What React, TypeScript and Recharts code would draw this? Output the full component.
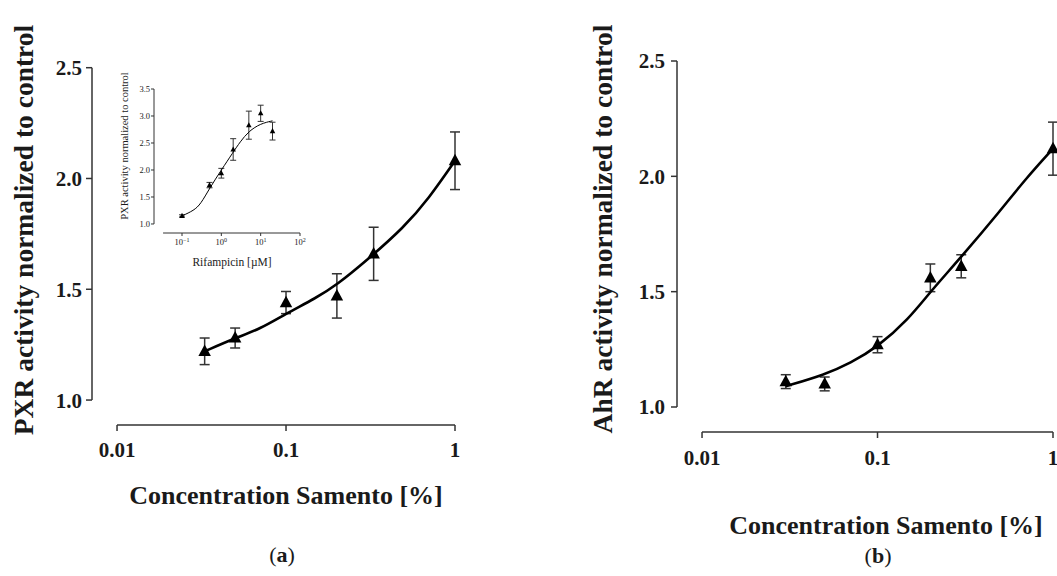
import React from 'react';
import { ScatterChart, Scatter, XAxis, YAxis, ErrorBar, ReferenceLine } from 'recharts';

// panel (a): PXR
const concA = [0.033, 0.05, 0.1, 0.2, 0.33, 1];
const pxrMean = [1.22, 1.28, 1.44, 1.47, 1.66, 2.08];
const pxrErr = [0.06, 0.045, 0.05, 0.1, 0.12, 0.13];
const pxrFitX = [0.033, 0.05, 0.07, 0.1, 0.15, 0.2, 0.3, 0.5, 0.7, 1];
const pxrFitY = [1.22, 1.28, 1.32, 1.39, 1.46, 1.52, 1.63, 1.78, 1.91, 2.08];

// inset: rifampicin control
const rifConc = [0.1, 0.5, 1, 2, 5, 10, 20];
const rifMean = [1.15, 1.72, 1.94, 2.38, 2.83, 3.05, 2.72];
const rifErr = [0.02, 0.05, 0.09, 0.2, 0.26, 0.15, 0.165];
const rifFitX = [0.1, 0.2, 0.3, 0.5, 1, 2, 3, 5, 10, 20];
const rifFitY = [1.15, 1.25, 1.37, 1.66, 2.0, 2.33, 2.52, 2.72, 2.86, 2.91];

// panel (b): AhR
const concB = [0.03, 0.05, 0.1, 0.2, 0.3, 1];
const ahrMean = [1.11, 1.1, 1.27, 1.56, 1.61, 2.12];
const ahrErr = [0.03, 0.03, 0.035, 0.06, 0.05, 0.115];
const ahrFitX = [0.03, 0.05, 0.07, 0.1, 0.15, 0.2, 0.3, 0.5, 0.7, 1];
const ahrFitY = [1.09, 1.14, 1.19, 1.26, 1.38, 1.5, 1.65, 1.85, 1.99, 2.12];

const concTicks = [0.01, 0.1, 1];
const activityTicks = [1, 1.5, 2, 2.5];
const rifXTicks = [0.1, 1, 10, 100];
const rifYTicks = [1, 1.5, 2, 2.5, 3, 3.5];

const zip = (xs: number[], ys: number[], es?: number[]) =>
  xs.map((x, i) => ({ x, y: ys[i], err: es ? es[i] : 0 }));

const FONT = '"Liberation Serif", "Times New Roman", serif';
const INK = '#1a1a1a';
const AXIS = '#333';

const noDot = () => <g />;

// filled triangle centred on the point the library computed
const tri = (w: number) => (p: any) => {
  const h = w * 0.92;
  const { cx, cy } = p;
  return (
    <polygon
      points={`${cx},${cy - h * 0.6} ${cx - w / 2},${cy + h * 0.4} ${cx + w / 2},${cy + h * 0.4}`}
      fill="#000"
    />
  );
};

const PowTick = (props: any) => {
  const { x, y, payload } = props;
  const exp = String(Math.round(Math.log10(payload.value))).replace('-', '\u2212');
  return (
    <text x={x} y={y} dy={7} textAnchor="middle" fontFamily={FONT} fontSize={8.5} fill={INK}>
      10<tspan dy={-3.5} fontSize={6}>{exp}</tspan>
    </text>
  );
};

type PanelProps = {
  width: number;
  height: number;
  margin: { top: number; right: number; bottom: number; left: number };
  xMin: number;
  yMin: number;
  pts: { x: number; y: number; err: number }[];
  fit: { x: number; y: number; err: number }[];
  tickMarginX: number;
  tickMarginY: number;
};

const MainPanel = ({ width, height, margin, xMin, yMin, pts, fit, tickMarginX, tickMarginY }: PanelProps) => (
  <ScatterChart width={width} height={height} margin={margin}>
    <XAxis
      type="number"
      dataKey="x"
      scale="log"
      domain={[xMin, 1]}
      ticks={concTicks}
      interval={0}
      axisLine={false}
      tickLine={{ stroke: AXIS, strokeWidth: 1.5 }}
      tickSize={6}
      tickMargin={tickMarginX}
      height={40}
      tick={{ fontFamily: FONT, fontSize: 21, fontWeight: 700, fill: INK }}
    />
    <YAxis
      type="number"
      dataKey="y"
      domain={[yMin, 2.5]}
      ticks={activityTicks}
      interval={0}
      tickFormatter={(v: number) => v.toFixed(1)}
      axisLine={false}
      tickLine={{ stroke: AXIS, strokeWidth: 1.5 }}
      tickSize={6}
      tickMargin={tickMarginY}
      width={60}
      tick={{ fontFamily: FONT, fontSize: 21, fontWeight: 700, fill: INK }}
    />
    <ReferenceLine
      segment={[{ x: xMin, y: 1 }, { x: xMin, y: 2.5 }]}
      stroke={AXIS}
      strokeWidth={1.5}
      ifOverflow="visible"
    />
    <ReferenceLine
      segment={[{ x: 0.01, y: yMin }, { x: 1, y: yMin }]}
      stroke={AXIS}
      strokeWidth={1.5}
      ifOverflow="visible"
    />
    <Scatter
      data={fit}
      line={{ stroke: '#000', strokeWidth: 2.6 }}
      lineJointType="basis"
      shape={noDot}
      isAnimationActive={false}
    />
    <Scatter data={pts} shape={tri(12.5)} isAnimationActive={false}>
      <ErrorBar dataKey="err" direction="y" width={5} stroke={AXIS} strokeWidth={1.5} />
    </Scatter>
  </ScatterChart>
);

const Inset = () => (
  <ScatterChart width={220} height={200} margin={{ top: 29, right: 20, bottom: 7, left: 30 }}>
    <XAxis
      type="number"
      dataKey="x"
      scale="log"
      domain={[0.0194, 100]}
      ticks={rifXTicks}
      interval={0}
      axisLine={false}
      tickLine={{ stroke: AXIS, strokeWidth: 1 }}
      tickSize={3}
      tickMargin={2}
      height={20}
      tick={<PowTick />}
    />
    <YAxis
      type="number"
      dataKey="y"
      domain={[0.833, 3.5]}
      ticks={rifYTicks}
      interval={0}
      tickFormatter={(v: number) => v.toFixed(1)}
      axisLine={false}
      tickLine={{ stroke: AXIS, strokeWidth: 1 }}
      tickSize={3}
      tickMargin={1}
      width={24}
      tick={{ fontFamily: FONT, fontSize: 8.5, fill: INK }}
    />
    <ReferenceLine
      segment={[{ x: 0.0194, y: 1 }, { x: 0.0194, y: 3.5 }]}
      stroke={AXIS}
      strokeWidth={1}
      ifOverflow="visible"
    />
    <ReferenceLine
      segment={[{ x: 0.033, y: 0.833 }, { x: 100, y: 0.833 }]}
      stroke={AXIS}
      strokeWidth={1}
      ifOverflow="visible"
    />
    <Scatter
      data={zip(rifFitX, rifFitY)}
      line={{ stroke: '#000', strokeWidth: 1 }}
      lineJointType="basis"
      shape={noDot}
      isAnimationActive={false}
    />
    <Scatter data={zip(rifConc, rifMean, rifErr)} shape={tri(5.5)} isAnimationActive={false}>
      <ErrorBar dataKey="err" direction="y" width={3} stroke={AXIS} strokeWidth={1} />
    </Scatter>
  </ScatterChart>
);

const abs = (left: number, top: number): React.CSSProperties => ({ position: 'absolute', left, top });

const VTitle = ({ x, y, size, bold, children }: any) => (
  <div
    style={{
      position: 'absolute',
      left: x,
      top: y,
      transform: 'translate(-50%, -50%) rotate(-90deg)',
      whiteSpace: 'nowrap',
      fontFamily: FONT,
      fontSize: size,
      fontWeight: bold ? 700 : 400,
      color: INK,
      lineHeight: 1,
    }}
  >
    {children}
  </div>
);

const HText = ({ x, y, size, bold, children }: any) => (
  <div
    style={{
      position: 'absolute',
      left: x,
      top: y,
      transform: 'translate(-50%, -50%)',
      whiteSpace: 'nowrap',
      fontFamily: FONT,
      fontSize: size,
      fontWeight: bold ? 700 : 400,
      color: INK,
      lineHeight: 1,
    }}
  >
    {children}
  </div>
);

export default function App() {
  return (
    <div
      style={{
        position: 'absolute',
        left: 0,
        top: 0,
        width: 1057,
        height: 576,
        overflow: 'hidden',
        background: '#fff',
      }}
    >
      {/* (a) plot area: x 92..455, y 67.7..425 */}
      <div style={abs(0, 0)}>
        <MainPanel
          width={520}
          height={576}
          margin={{ top: 67.7, right: 65, bottom: 111, left: 32 }}
          xMin={0.00711}
          yMin={0.8874}
          pts={zip(concA, pxrMean, pxrErr)}
          fit={zip(pxrFitX, pxrFitY)}
          tickMarginX={11}
          tickMarginY={4}
        />
      </div>
      {/* (b) plot area: x 677..1053, y 61..432 */}
      <div style={abs(560, 0)}>
        <MainPanel
          width={540}
          height={576}
          margin={{ top: 61, right: 47, bottom: 104, left: 57 }}
          xMin={0.0072}
          yMin={0.8916}
          pts={zip(concB, ahrMean, ahrErr)}
          fit={zip(ahrFitX, ahrFitY)}
          tickMarginX={12}
          tickMarginY={6}
        />
      </div>
      <div style={abs(100, 60)}>
        <Inset />
      </div>

      <VTitle x={24} y={230} size={27.5} bold>PXR activity normalized to control</VTitle>
      <VTitle x={603} y={229} size={27.5} bold>AhR activity normalized to control</VTitle>
      <VTitle x={125} y={146} size={10.5}>PXR activity normalized to control</VTitle>
      <HText x={232} y={263} size={11.5}>Rifampicin [µM]</HText>
      <HText x={286} y={496} size={26} bold>Concentration Samento [%]</HText>
      <HText x={886} y={526} size={26} bold>Concentration Samento [%]</HText>
      <HText x={282} y={555} size={22}>(<b>a</b>)</HText>
      <HText x={878} y={556} size={22}>(<b>b</b>)</HText>
    </div>
  );
}
